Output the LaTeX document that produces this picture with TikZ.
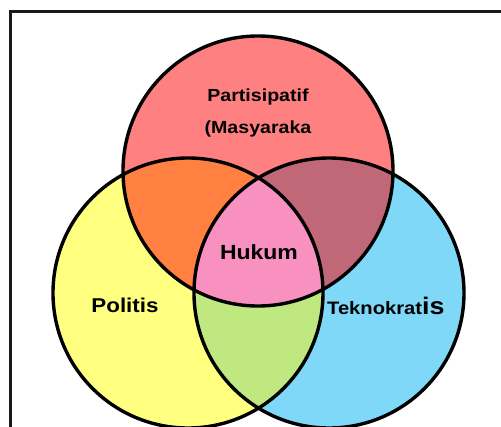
\documentclass[tikz,border=0pt]{standalone}
\usepackage{fontspec}
\usepackage{tikz}
\usetikzlibrary{positioning}
\newfontfamily\vennfont[FakeStretch=1.12]{Liberation Sans}
\tikzset{ring/.style = {line width = 3.4pt},
  lbl/.style = {font = \vennfont\bfseries, inner sep = 0}}
\definecolor{vred}{HTML}{FF8080}
\definecolor{vyellow}{HTML}{FFFF80}
\definecolor{vblue}{HTML}{80D8F8}
\definecolor{vorange}{HTML}{FF8040}
\definecolor{vplum}{HTML}{C06878}
\definecolor{vgreen}{HTML}{C0E880}
\definecolor{vpink}{HTML}{F890C0}
\begin{document}
\begin{tikzpicture}[x=1pt, y=-1pt]
      \useasboundingbox (0, 0) rectangle (501, 427);
      \clip (0, 0) rectangle (501, 427);
      \fill [white] (0, 0) rectangle (501, 427);

      \coordinate (cr) at (258, 171);
      \coordinate (cy) at (188, 293);
      \coordinate (cb) at (329, 293);

      \draw [line width=2.2pt, black!90] (10.5, 440) |- (520, 11.5);

      \fill [vred] (cr) circle (135);
      \fill [vyellow] (cy) circle (135);
      \fill [vblue] (cb) circle (135);
      \begin{scope}
        \clip (cr) circle (135);
        \fill [vorange] (cy) circle (135);
        \fill [vplum] (cb) circle (135);
      \end{scope}
      \begin{scope}
        \clip (cy) circle (135);
        \fill [vgreen] (cb) circle (135);
        \clip (cb) circle (135);
        \fill [vpink] (cr) circle (135);
      \end{scope}
      \foreach \c in {cr, cy, cb} {
        \draw [ring] (\c) circle (135);
      }

      \node [lbl, font=\vennfont\bfseries\fontsize{17.5}{20}\selectfont] (part) at (258, 97) {Partisipatif};
      \node [lbl, font=\vennfont\bfseries\fontsize{17.5}{20}\selectfont] (masy) at (258, 129) {(Masyaraka};
      \node [lbl, font=\vennfont\bfseries\fontsize{20.5}{24}\selectfont] (hukum) at (259, 252) {Hukum};
      \node [lbl, font=\vennfont\bfseries\fontsize{20}{24}\selectfont] (politis) at (125, 305) {Politis};
      \node [lbl, anchor=base west, font=\vennfont\bfseries\fontsize{18}{22}\selectfont] (tekno) at (327, 315) {Teknokrat\fontsize{24}{28}\selectfont is};
\end{tikzpicture}
\end{document}
